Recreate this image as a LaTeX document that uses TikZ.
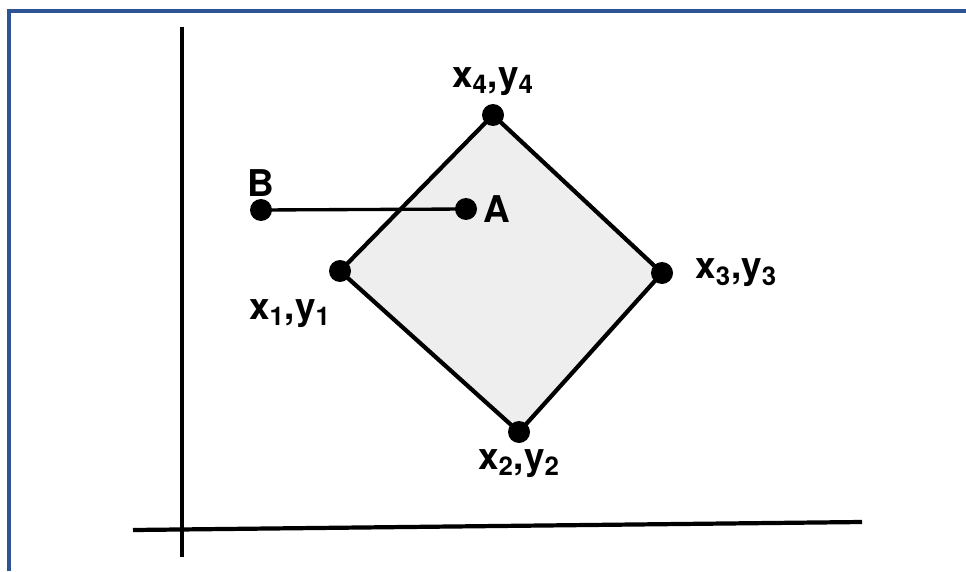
\documentclass[tikz,border=0pt]{standalone}
\usepackage{fontspec}
\setmainfont{TeX Gyre Heros}
\usetikzlibrary{positioning}
\definecolor{frameblue}{RGB}{47,84,150}
\tikzset{
    dot/.style={circle, fill=black, inner sep=0pt, minimum size=0.44cm},
    axis/.style={line width=2.4pt, black},
    edge/.style={line width=2.4pt, black, line join=round},
    seg/.style={line width=1.9pt, black},
    lbl/.style={font=\fontsize{21}{24}\selectfont\bfseries, inner sep=1pt}
}

\begin{document}
\begin{tikzpicture}[x=0.02cm, y=-0.02cm]
        \useasboundingbox (0,0) rectangle (966,571);
        % frame
        \draw [frameblue, line width=2pt] (9,571) -- (9,11) -- (966,11);
        % axes
        \coordinate (ytop) at (182,27);
        \coordinate (ybot) at (182,557);
        \coordinate (xleft) at (133,530);
        \coordinate (xright) at (862,522);
        \draw [axis] (ytop) -- (ybot);
        \draw [axis] (xleft) -- (xright);
        % polygon corners
        \coordinate (p1) at (340,271);
        \coordinate (p2) at (519,432);
        \coordinate (p3) at (662,273);
        \coordinate (p4) at (493,115);
        \draw [edge, fill=gray!13] (p1) -- (p4) -- (p3) -- (p2) -- cycle;
        \node [dot] (d1) at (p1) {};
        \node [dot] (d2) at (p2) {};
        \node [dot] (d3) at (p3) {};
        \node [dot] (d4) at (p4) {};
        % test line
        \node [dot] (dB) at (261,210) {};
        \node [dot] (dA) at (466,209) {};
        \draw [seg] (dB.center) -- (dA.center);
        % labels
        \node [lbl, above=0.12cm of d4] (l4) {x\textsubscript{4},y\textsubscript{4}};
        \node [lbl, right=0.4cm of d3] (l3) {x\textsubscript{3},y\textsubscript{3}};
        \node [lbl, below=0.3cm of d1, xshift=-1cm] (l1) {x\textsubscript{1},y\textsubscript{1}};
        \node [lbl, below=0.08cm of d2] (l2) {x\textsubscript{2},y\textsubscript{2}};
        \node [lbl, above=0cm of dB] (lB) {B};
        \node [lbl, right=0.08cm of dA] (lA) {A};
    \end{tikzpicture}
\end{document}
